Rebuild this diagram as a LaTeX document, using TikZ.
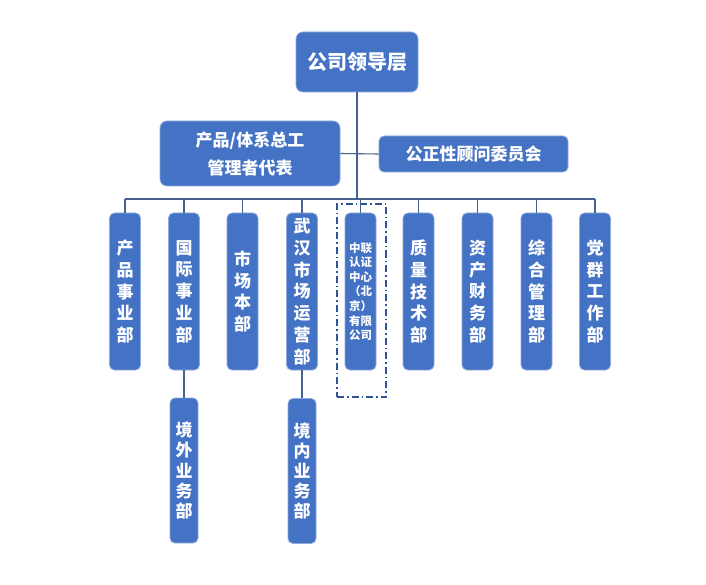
\documentclass[tikz,border=0pt]{standalone}
\usepackage{fontspec}
\newfontfamily\cjk{Noto Sans CJK SC}
\usetikzlibrary{calc}
\definecolor{paper}{HTML}{FFFFFF}
\definecolor{boxblue}{HTML}{4472C4}
\definecolor{boxedge}{HTML}{8EA9DB}
\definecolor{wire}{HTML}{44618F}
\definecolor{frameblue}{HTML}{2F5597}
\tikzset{
  orgbox/.style={rectangle,rounded corners=7pt,fill=boxblue,draw=boxedge,
                 line width=.8pt,text=white,align=center,inner sep=0pt},
  deptbox/.style={orgbox,rounded corners=5pt,minimum width=31pt,
                  minimum height=157pt,font=\cjk\bfseries\fontsize{17}{21.7}\selectfont},
  subbox/.style={orgbox,rounded corners=5pt,minimum width=28pt,
                 minimum height=145pt,font=\cjk\bfseries\fontsize{17}{20.2}\selectfont},
  link/.style={draw=wire,line width=1.1pt},
  dashframe/.style={draw=frameblue,line width=1.6pt,
                    dash pattern=on 7pt off 3pt on 1.5pt off 3pt}
}
\newcommand{\headfont}{\cjk\bfseries\fontsize{20}{22}\selectfont}
\newcommand{\midfont}{\cjk\bfseries\fontsize{17}{28}\selectfont}
\newcommand{\jvfont}{\cjk\bfseries\fontsize{11.5}{14.6}\selectfont}

\begin{document}
\begin{tikzpicture}[x=1pt,y=-1pt]
  \fill[paper] (0,0) rectangle (706,585);
  \useasboundingbox (0,0) rectangle (706,585);

  % ======================== TOP LEVEL ========================
  \node[orgbox,minimum width=122pt,minimum height=60pt,font=\headfont]
    (lead) at (357,62) {公司领导层};

  \node[orgbox,minimum width=180pt,minimum height=65pt,font=\midfont]
    (sys) at (250,153.5) {产品/体系总工\\管理者代表};
  \node[orgbox,rounded corners=5pt,minimum width=189pt,minimum height=36pt,
        font=\cjk\bfseries\fontsize{17}{20}\selectfont]
    (adv) at (473.5,154) {公正性顾问委员会};

  % ======================== DEPARTMENTS ========================
  \node[deptbox] (d1) at (125,291.5) {产\\品\\事\\业\\部};
  \node[deptbox] (d2) at (184,291.5) {国\\际\\事\\业\\部};
  \node[deptbox] (d3) at (242.5,291.5) {市\\场\\本\\部};
  \node[deptbox] (d4) at (302,291.5) {武\\汉\\市\\场\\运\\营\\部};
  \node[deptbox,font=\jvfont] (d5) at (360.5,291.5)
    {中联\\认证\\中心\\（北\\京）\\有限\\公司};
  \node[deptbox] (d6) at (418.5,291.5) {质\\量\\技\\术\\部};
  \node[deptbox] (d7) at (477.5,291.5) {资\\产\\财\\务\\部};
  \node[deptbox] (d8) at (536.5,291.5) {综\\合\\管\\理\\部};
  \node[deptbox] (d9) at (595,291.5) {党\\群\\工\\作\\部};

  % dash-dot frame round the certification centre
  \node[dashframe,minimum width=49pt,minimum height=193pt,inner sep=0pt]
    (frame) at (361.5,300.5) {};

  % ======================== SUB-UNITS ========================
  \node[subbox] (s2) at (184,470.5) {境\\外\\业\\务\\部};
  \node[subbox] (s4) at (302,471) {境\\内\\业\\务\\部};

  % ======================== CONNECTORS ========================
  \coordinate (busL) at (125,199);
  \coordinate (busR) at (595,199);
  \draw[link] (busL) -- (busR);
  \draw[link] (lead.south) -- (lead.south |- busL);
  \draw[link] (sys.east) -- (adv.west);
  \foreach \d in {d1,d2,d3,d4,d5,d6,d7,d8,d9}{
    \draw[link] (\d.north |- busL) -- (\d.north);
  }
  \draw[link] (d2.south) -- (s2.north);
  \draw[link] (d4.south) -- (s4.north);
\end{tikzpicture}
\end{document}
